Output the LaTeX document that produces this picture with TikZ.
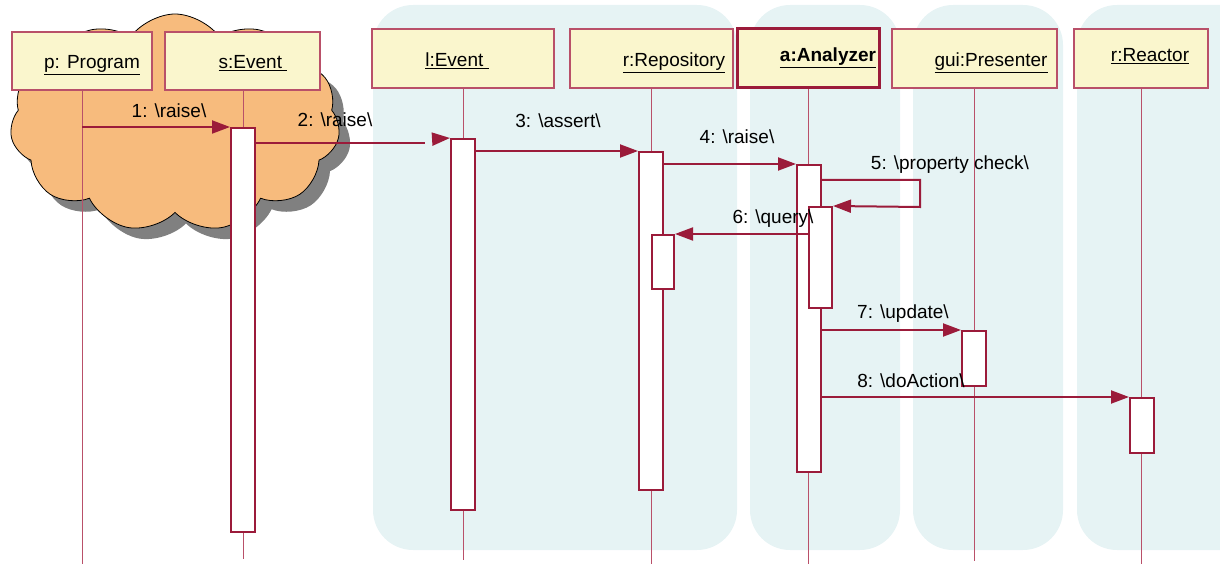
\documentclass[tikz,border=0pt]{standalone}
\usepackage{fontspec}
\setmainfont{Liberation Sans}
\usetikzlibrary{shapes.symbols,shadows,arrows.meta}
\definecolor{dred}{RGB}{155,27,58}
\definecolor{lred}{RGB}{185,80,105}
\definecolor{objfill}{RGB}{250,246,205}
\definecolor{lanefill}{RGB}{230,243,244}
\definecolor{cloudfill}{RGB}{247,187,125}
\begin{document}
\begin{tikzpicture}[x=1pt,y=-1pt,font=\fontsize{19}{23}\selectfont,
  lane/.style={fill=lanefill, rounded corners=40pt},
  obj/.style={draw=lred, line width=1.2pt, fill=objfill, inner sep=0pt, minimum height=58pt},
  act/.style={draw=dred, line width=2pt, fill=white, inner sep=0pt, minimum width=24pt},
  life/.style={draw=lred, line width=0.9pt},
  msgline/.style={draw=dred, line width=2pt},
  msg/.style={msgline, -{Triangle[length=18pt,width=13pt]}},
  lbl/.style={anchor=base, inner sep=0pt}]
\useasboundingbox (0,0) rectangle (1220,564);
\clip (0,0) rectangle (1220,564);
% swimlanes
\fill[lane] (373,5) rectangle (737,550);
\fill[lane] (750,5) rectangle (900,550);
\fill[lane] (913,5) rectangle (1063,550);
\fill[lane] (1077,5) rectangle (1260,550);
% cloud
\node[cloud, cloud puffs=11, cloud puff arc=110, aspect=1.5, draw=black, line width=0.8pt,
  fill=cloudfill, minimum width=330pt, minimum height=218pt,
  drop shadow={shadow xshift=11pt, shadow yshift=-11pt, fill=black!50, opacity=1}]
  (cl) at (175,123) {};
% objects
\node[obj, minimum width=140pt] (p) at (82,61) {};
\node[obj, minimum width=155pt] (s) at (242.5,61) {};
\node[obj, minimum width=182pt, minimum height=59pt] (l) at (463,58.5) {};
\node[obj, minimum width=163pt, minimum height=59pt] (r) at (651.5,58.5) {};
\node[obj, draw=dred, line width=3pt, minimum width=142pt, minimum height=59pt] (a) at (808,58.5) {};
\node[obj, minimum width=165pt, minimum height=59pt] (g) at (974.5,58.5) {};
\node[obj, minimum width=134pt, minimum height=59pt] (x) at (1141,58.5) {};
\node[lbl] at (92,69) {\underline{p: Program}};
\node[lbl] at (253,69) {\underline{s:Event\ }};
\node[lbl] at (457,67) {\underline{l:Event\ }};
\node[lbl] at (674,67) {\underline{r:Repository}};
\node[lbl] at (828,62) {\underline{\bfseries a:Analyzer}};
\node[lbl] at (991,67) {\underline{gui:Presenter}};
\node[lbl] at (1150,62) {\underline{r:Reactor}};
% lifelines
\draw[life] (p.south) -- (p.south |- 0,564);
\draw[life] (243,90) -- (243,559);
\draw[life] (l.south) -- (l.south |- 0,560);
\draw[life] (r.south) -- (r.south |- 0,564);
\draw[life] (a.south) -- (a.south |- 0,564);
\draw[life] (g.south) -- (g.south |- 0,561);
\draw[life] (x.south) -- (x.south |- 0,564);
% activations
\node[act, minimum height=404pt] (sA) at (243,330) {};
\node[act, minimum height=371pt] (lA) at (463,324.5) {};
\node[act, minimum height=338pt] (rA) at (651,321) {};
\node[act, minimum width=22pt, minimum height=54pt] (rB) at (663,262) {};
\node[act, minimum height=307pt] (aA) at (809,318.5) {};
\node[act, minimum width=23pt, minimum height=101pt] (aB) at (820.5,257.5) {};
\node[act, minimum height=55pt] (gA) at (974,358.5) {};
\node[act, minimum height=55pt] (xA) at (1142,425.5) {};
% messages
\coordinate (c2) at (425,143);
\coordinate (c2b) at (434,139);
\coordinate (c5a) at (920,180);
\coordinate (c5b) at (920,207);
\draw[msg] (p.south |- sA.north) -- (sA.north west);
\draw[msgline] (sA.east |- c2) -- (c2);
\draw[msg] (c2b) -- (lA.north west);
\draw[msg] (lA.east |- rA.north) -- (rA.north west);
\draw[msg] (rA.east |- aA.north) -- (aA.north west);
\draw[msg] (aA.east |- c5a) -- (c5a) -- (c5b) -- (aB.north east);
\draw[msg] (aB.west |- rB.north) -- (rB.north east);
\draw[msg] (aA.east |- gA.north) -- (gA.north west);
\draw[msg] (aA.east |- xA.north) -- (xA.north west);
% message labels
\node[lbl] at (169,118) {1: \textbackslash raise\textbackslash};
\node[lbl] at (335,127) {2: \textbackslash raise\textbackslash};
\node[lbl] at (558,128) {3: \textbackslash assert\textbackslash};
\node[lbl] at (737,144) {4: \textbackslash raise\textbackslash};
\node[lbl] at (950,170) {5: \textbackslash property check\textbackslash};
\node[lbl] at (773,223) {6: \textbackslash query\textbackslash};
\node[lbl] at (903,318) {7: \textbackslash update\textbackslash};
\node[lbl] at (911,387) {8: \textbackslash doAction\textbackslash};
\end{tikzpicture}
\end{document}
